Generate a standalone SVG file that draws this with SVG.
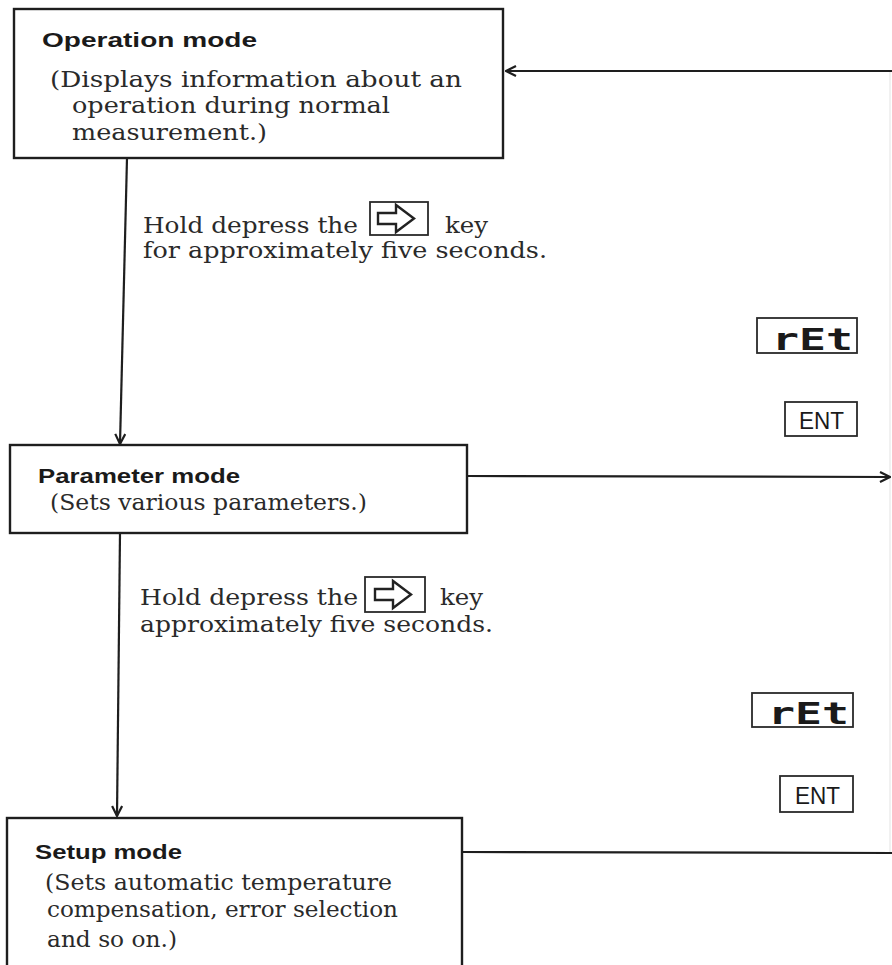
<svg xmlns="http://www.w3.org/2000/svg" width="892" height="965" viewBox="0 0 892 965">
<style>
.box{fill:#fff;stroke:#1e1e1e;stroke-width:2.4}
.ttl{font-family:"Liberation Sans",Arial,sans-serif;font-weight:bold;font-size:21px;fill:#1a1a1a}
.txt{font-family:"DejaVu Serif","Liberation Serif",serif;font-size:23px;fill:#2a2a2a}
.ln{fill:none;stroke:#1e1e1e;stroke-width:2.2}
.faint{fill:none;stroke:#ececec;stroke-width:1.5}
.kbox{fill:#fff;stroke:#2a2a2a;stroke-width:1.8}
.seg{font-family:"DejaVu Sans Mono","Liberation Mono",monospace;font-weight:bold;font-size:30px;fill:#1a1a1a}
.ent{font-family:"Liberation Sans",Arial,sans-serif;font-size:23px;fill:#1a1a1a}
</style>
<defs>
<marker id="ah" viewBox="0 0 12 12" refX="11" refY="6" markerWidth="12" markerHeight="12" markerUnits="userSpaceOnUse" orient="auto">
<path d="M1,1 L11,6 L1,11" fill="none" stroke="#1e1e1e" stroke-width="2.2"/>
</marker>
<g id="keyarrow">
<path d="M8,11 H26 V3 L44,16.5 L26,30 V22 H8 Z" fill="none" stroke="#222" stroke-width="2.4" stroke-linejoin="miter"/>
</g>
</defs>

<g id="connectors">
<line class="faint" x1="890" y1="72" x2="890" y2="853"/>
<line class="ln" x1="892" y1="71" x2="506" y2="71" marker-end="url(#ah)"/>
<line class="ln" x1="127" y1="158" x2="120" y2="444" marker-end="url(#ah)"/>
<line class="ln" x1="467" y1="476" x2="890" y2="477" marker-end="url(#ah)"/>
<line class="ln" x1="120" y1="533" x2="117" y2="816" marker-end="url(#ah)"/>
<line class="ln" x1="462" y1="852" x2="892" y2="853"/>
</g>

<g id="operation-mode">
<rect class="box" x="14" y="9" width="489" height="149"/>
<text class="ttl" x="42" y="47" textLength="215" lengthAdjust="spacingAndGlyphs">Operation mode</text>
<text class="txt" x="50" y="87" textLength="412" lengthAdjust="spacingAndGlyphs">(Displays information about an</text>
<text class="txt" x="72" y="113" textLength="318" lengthAdjust="spacingAndGlyphs">operation during normal</text>
<text class="txt" x="72" y="140" textLength="195" lengthAdjust="spacingAndGlyphs">measurement.)</text>
</g>

<g id="label-1">
<text class="txt" x="143" y="233" textLength="215" lengthAdjust="spacingAndGlyphs">Hold depress the</text>
<rect class="kbox" x="370" y="202" width="58" height="33"/>
<use href="#keyarrow" x="370" y="202"/>
<text class="txt" x="445" y="233" textLength="43" lengthAdjust="spacingAndGlyphs">key</text>
<text class="txt" x="143" y="258" textLength="404" lengthAdjust="spacingAndGlyphs">for approximately five seconds.</text>
</g>

<g id="ret-1">
<rect class="kbox" x="757" y="318" width="100" height="35"/>
<text class="seg" x="772" y="350" textLength="81" lengthAdjust="spacingAndGlyphs">rEt</text>
</g>
<g id="ent-1">
<rect class="kbox" x="785" y="402" width="72" height="34"/>
<text class="ent" x="799" y="429" textLength="45" lengthAdjust="spacingAndGlyphs">ENT</text>
</g>

<g id="parameter-mode">
<rect class="box" x="10" y="445" width="457" height="88"/>
<text class="ttl" x="38" y="483" textLength="202" lengthAdjust="spacingAndGlyphs">Parameter mode</text>
<text class="txt" x="50" y="510" textLength="317" lengthAdjust="spacingAndGlyphs">(Sets various parameters.)</text>
</g>

<g id="label-2">
<text class="txt" x="140" y="605" textLength="218" lengthAdjust="spacingAndGlyphs">Hold depress the</text>
<rect class="kbox" x="365" y="577" width="60" height="35"/>
<use href="#keyarrow" x="367" y="578"/>
<text class="txt" x="440" y="605" textLength="43" lengthAdjust="spacingAndGlyphs">key</text>
<text class="txt" x="140" y="632" textLength="353" lengthAdjust="spacingAndGlyphs">approximately five seconds.</text>
</g>

<g id="ret-2">
<rect class="kbox" x="752" y="693" width="101" height="34"/>
<text class="seg" x="768" y="724" textLength="81" lengthAdjust="spacingAndGlyphs">rEt</text>
</g>
<g id="ent-2">
<rect class="kbox" x="780" y="776" width="73" height="36"/>
<text class="ent" x="795" y="804" textLength="45" lengthAdjust="spacingAndGlyphs">ENT</text>
</g>

<g id="setup-mode">
<rect class="box" x="7" y="818" width="455" height="160"/>
<text class="ttl" x="35" y="859" textLength="147" lengthAdjust="spacingAndGlyphs">Setup mode</text>
<text class="txt" x="45" y="890" textLength="347" lengthAdjust="spacingAndGlyphs">(Sets automatic temperature</text>
<text class="txt" x="47" y="917" textLength="351" lengthAdjust="spacingAndGlyphs">compensation, error selection</text>
<text class="txt" x="47" y="947" textLength="130" lengthAdjust="spacingAndGlyphs">and so on.)</text>
</g>
</svg>
